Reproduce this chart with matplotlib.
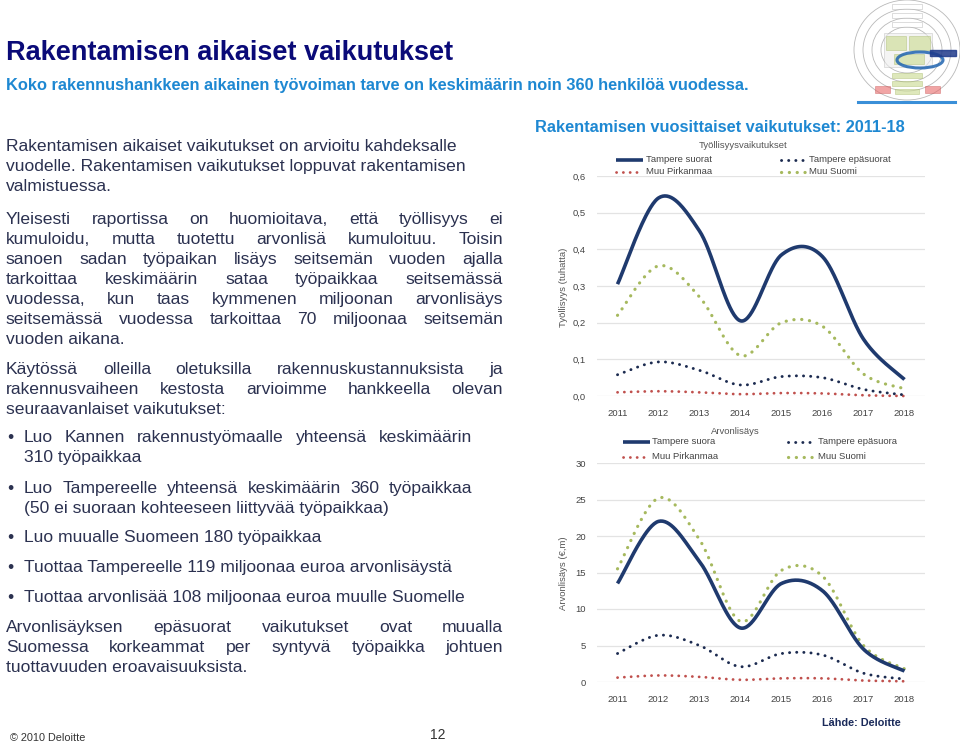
import numpy as np
import matplotlib
matplotlib.use("Agg")
import matplotlib.pyplot as plt
from matplotlib.lines import Line2D
from matplotlib.patches import Ellipse, Rectangle

plt.rcParams['font.family'] = ['Liberation Sans', 'DejaVu Sans']

W, H = 960, 747

years = ["2011", "2012", "2013", "2014", "2015", "2016", "2017", "2018"]

# Työllisyysvaikutukset (tuhatta)
jobs_tampere_direct = [0.305, 0.540, 0.450, 0.205, 0.385, 0.380, 0.155, 0.045]
jobs_tampere_indirect = [0.058, 0.093, 0.070, 0.030, 0.053, 0.050, 0.018, 0.003]
jobs_pirkanmaa = [0.010, 0.013, 0.010, 0.005, 0.008, 0.007, 0.002, 0.000]
jobs_suomi = [0.220, 0.355, 0.270, 0.110, 0.200, 0.190, 0.060, 0.020]

# Arvonlisäys (€, m)
va_tampere_direct = [13.5, 22.0, 16.5, 7.4, 13.5, 12.5, 4.5, 1.5]
va_tampere_indirect = [3.9, 6.4, 5.0, 2.1, 3.9, 3.7, 1.2, 0.4]
va_pirkanmaa = [0.6, 0.9, 0.7, 0.3, 0.5, 0.5, 0.2, 0.1]
va_suomi = [15.5, 25.2, 19.5, 8.3, 15.3, 14.5, 5.0, 1.8]

NAVY = '#1f3a6e'
NAVY_DOT = '#1c2b50'
RED = '#c0504d'
GREEN = '#a6b95e'
TEXT = '#2b3150'
DOTS = (0, (0.05, 2.4))

fig = plt.figure(figsize=(9.6, 7.47), dpi=100)
renderer = fig.canvas.get_renderer()


def fx(x):
    return x / W


def fy(y):
    return 1 - y / H


def smooth(vals, n=40):
    # Excel-like smoothed line: Bezier segments with Catmull-Rom tangents
    y = np.asarray(vals, float)
    x = np.arange(len(y), dtype=float)
    px, py = [], []
    t = np.linspace(0, 1, n)
    for i in range(len(y) - 1):
        i0, i3 = max(i - 1, 0), min(i + 2, len(y) - 1)
        c1x = x[i] + (x[i + 1] - x[i0]) / 6
        c1y = y[i] + (y[i + 1] - y[i0]) / 6
        c2x = x[i + 1] - (x[i3] - x[i]) / 6
        c2y = y[i + 1] - (y[i3] - y[i]) / 6
        bx = (1 - t)**3 * x[i] + 3 * (1 - t)**2 * t * c1x + 3 * (1 - t) * t**2 * c2x + t**3 * x[i + 1]
        by = (1 - t)**3 * y[i] + 3 * (1 - t)**2 * t * c1y + 3 * (1 - t) * t**2 * c2y + t**3 * y[i + 1]
        px.extend(bx)
        py.extend(by)
    return np.array(px), np.array(py)


def chart(top, bottom, ymax, step, fmt, series, names, ylabel, ytitle_y, title, title_xy, rows, cols):
    ax = fig.add_axes([fx(597), fy(bottom), (925 - 597) / W, (bottom - top) / H])
    ax.set_xlim(-0.5, 7.5)
    ax.set_ylim(0, ymax)
    ticks = np.arange(0, ymax + step / 2, step)
    ax.set_yticks(ticks)
    ax.set_yticklabels([fmt(v) for v in ticks])
    ax.set_xticks(range(len(years)))
    ax.set_xticklabels(years)
    ax.tick_params(length=0, labelsize=6.8, colors='#444444', pad=9)
    ax.tick_params(axis='y', pad=8)
    for s in ax.spines.values():
        s.set_visible(False)
    ax.grid(axis='y', color='#e3e3e3', lw=0.9)
    ax.set_axisbelow(True)
    styles = [
        dict(color=RED, lw=2.0, ls=DOTS, dash_capstyle='round'),
        dict(color=NAVY_DOT, lw=2.1, ls=DOTS, dash_capstyle='round'),
        dict(color=GREEN, lw=2.3, ls=DOTS, dash_capstyle='round'),
        dict(color=NAVY, lw=2.6, ls='-', solid_capstyle='butt'),
    ]
    for vals, st in zip(series, styles):
        sx, sy = smooth(vals)
        ax.plot(sx, sy, clip_on=False, **st)
    fig.text(fx(563), fy(ytitle_y), ylabel, rotation=90, ha='center', va='center',
             fontsize=6.8, color='#555555')
    fig.text(fx(title_xy[0]), fy(title_xy[1]), title, ha='center', va='center',
             fontsize=6.8, color='#555555')
    # legend: order tampere direct, tampere indirect / pirkanmaa, suomi
    order = [(3, 0, 0), (1, 0, 1), (0, 1, 0), (2, 1, 1)]
    for si, r, c in order:
        yy = rows[r]
        x0, x1, xt = cols[c]
        st = styles[si]
        fig.add_artist(Line2D([fx(x0), fx(x1)], [fy(yy), fy(yy)], transform=fig.transFigure, **st))
        fig.text(fx(xt), fy(yy), names[si], ha='left', va='center', fontsize=6.8, color='#444444')
    return ax


chart(176, 396, 0.6, 0.1, lambda v: f"{v:.1f}".replace('.', ','),
      [jobs_pirkanmaa, jobs_tampere_indirect, jobs_suomi, jobs_tampere_direct],
      ["Muu Pirkanmaa", "Tampere epäsuorat", "Muu Suomi", "Tampere suorat"],
      "Työllisyys (tuhatta)", 287, "Työllisyysvaikutukset", (743, 145),
      [160, 172], [(616, 643, 646), (781, 806, 809)])

chart(463, 682, 30, 5, lambda v: f"{v:.0f}",
      [va_pirkanmaa, va_tampere_indirect, va_suomi, va_tampere_direct],
      ["Muu Pirkanmaa", "Tampere epäsuora", "Muu Suomi", "Tampere suora"],
      "Arvonlisäys (€,m)", 573, "Arvonlisäys", (735, 432),
      [442, 457], [(623, 650, 652), (788, 815, 818)])

# Titles
fig.text(fx(6), fy(60), "Rakentamisen aikaiset vaikutukset", fontsize=19.5, fontweight='bold',
         color='#0a0a78', ha='left', va='baseline')
fig.text(fx(6), fy(90), "Koko rakennushankkeen aikainen työvoiman tarve on keskimäärin noin 360 henkilöä vuodessa.",
         fontsize=11.8, fontweight='bold', color='#1e88d2', ha='left', va='baseline')
fig.text(fx(535), fy(132), "Rakentamisen vuosittaiset vaikutukset: 2011-18", fontsize=11.8,
         fontweight='bold', color='#1e88d2', ha='left', va='baseline')

# Body text
BODY = dict(fontsize=12.6, color=TEXT)
RIGHT = 503


def put_line(x, y, s, justify=False, right=RIGHT):
    yb = fy(y + 6)
    if not justify:
        fig.text(fx(x), yb, s, ha='left', va='baseline', **BODY)
        return
    words = s.split()
    ts = [fig.text(0, yb, w, ha='left', va='baseline', **BODY) for w in words]
    widths = [t.get_window_extent(renderer).width for t in ts]
    gap = (right - x - sum(widths)) / (len(words) - 1)
    cx = x
    for t, w in zip(ts, widths):
        t.set_position((fx(cx), yb))
        cx += w + gap


para1 = ["Rakentamisen aikaiset vaikutukset on arvioitu kahdeksalle",
         "vuodelle. Rakentamisen vaikutukset loppuvat rakentamisen",
         "valmistuessa."]
for i, s in enumerate(para1):
    put_line(6, 145 + 20 * i, s)

para2 = ["Yleisesti raportissa on huomioitava, että työllisyys ei",
         "kumuloidu, mutta tuotettu arvonlisä kumuloituu. Toisin",
         "sanoen sadan työpaikan lisäys seitsemän vuoden ajalla",
         "tarkoittaa keskimäärin sataa työpaikkaa seitsemässä",
         "vuodessa, kun taas kymmenen miljoonan arvonlisäys",
         "seitsemässä vuodessa tarkoittaa 70 miljoonaa seitsemän",
         "vuoden aikana."]
for i, s in enumerate(para2):
    put_line(6, 218 + 20 * i, s, justify=i < len(para2) - 1)

para3 = ["Käytössä olleilla oletuksilla rakennuskustannuksista ja",
         "rakennusvaiheen kestosta arvioimme hankkeella olevan",
         "seuraavanlaiset vaikutukset:"]
for i, s in enumerate(para3):
    put_line(6, 368 + 20 * i, s, justify=i < len(para3) - 1)

bullets = [(436, ["Luo Kannen rakennustyömaalle yhteensä keskimäärin", "310 työpaikkaa"], True),
           (487, ["Luo Tampereelle yhteensä keskimäärin 360 työpaikkaa",
                  "(50 ei suoraan kohteeseen liittyvää työpaikkaa)"], True),
           (536, ["Luo muualle Suomeen 180 työpaikkaa"], False),
           (566, ["Tuottaa Tampereelle 119 miljoonaa euroa arvonlisäystä"], False),
           (596, ["Tuottaa arvonlisää 108 miljoonaa euroa muulle Suomelle"], False)]
for y0, lines, just in bullets:
    fig.text(fx(7), fy(y0 + 6), "•", ha='left', va='baseline', **BODY)
    for i, s in enumerate(lines):
        put_line(24, y0 + 20 * i, s, justify=just and i < len(lines) - 1, right=472)

para4 = ["Arvonlisäyksen epäsuorat vaikutukset ovat muualla",
         "Suomessa korkeammat per syntyvä työpaikka johtuen",
         "tuottavuuden eroavaisuuksista."]
for i, s in enumerate(para4):
    put_line(6, 626 + 20 * i, s, justify=i < len(para4) - 1)

# Footer
fig.text(fx(10), fy(738), "© 2010 Deloitte", fontsize=7.8, color='#333333', ha='left', va='center')
fig.text(fx(438), fy(735), "12", fontsize=10, color='#333333', ha='center', va='center')
fig.text(fx(822), fy(723), "Lähde: Deloitte", fontsize=7.8, fontweight='bold', color='#1a2a5a',
         ha='left', va='center')

# Header rule
fig.add_artist(Line2D([fx(858), fx(955)], [fy(102), fy(102)], transform=fig.transFigure,
                      color='#3a8fd8', lw=2.2))

# Small framework diagram, top right
lg = fig.add_axes([fx(850), fy(104), 110 / W, 104 / H])
lg.set_xlim(850, 960)
lg.set_ylim(104, 0)
lg.axis('off')
A = 0.6
for rx, ry in [(53, 50), (44, 41), (35, 32), (26, 23)]:
    lg.add_patch(Ellipse((907, 50), 2 * rx, 2 * ry, fill=False, ec='#8a8a8a', lw=0.6, alpha=A))
lg.add_patch(Rectangle((884, 33), 48, 34, fc='#eeeeee', ec='#aaaaaa', lw=0.4, alpha=A))
for bx, by, bw, bh in [(886, 36, 20, 14), (909, 36, 21, 14), (894, 54, 30, 10),
                       (892, 73, 30, 5), (892, 81, 30, 5), (895, 89, 24, 5)]:
    lg.add_patch(Rectangle((bx, by), bw, bh, fc='#c9da8e', ec='#9aae55', lw=0.4, alpha=A))
for by in [4, 13, 22]:
    lg.add_patch(Rectangle((892, by), 30, 5, fc='white', ec='#999999', lw=0.4, alpha=A))
lg.add_patch(Rectangle((875, 86), 15, 7, fc='#e86a6a', ec='#c04040', lw=0.4, alpha=A))
lg.add_patch(Rectangle((925, 86), 15, 7, fc='#e86a6a', ec='#c04040', lw=0.4, alpha=A))
lg.add_patch(Ellipse((920, 60), 46, 16, fill=False, ec='#1f64b0', lw=2.2, alpha=0.85))
lg.add_patch(Rectangle((930, 50), 26, 6, fc='#1f3a8a', ec='#1f3a8a', alpha=0.85))

fig.savefig("out.png", dpi=100)
